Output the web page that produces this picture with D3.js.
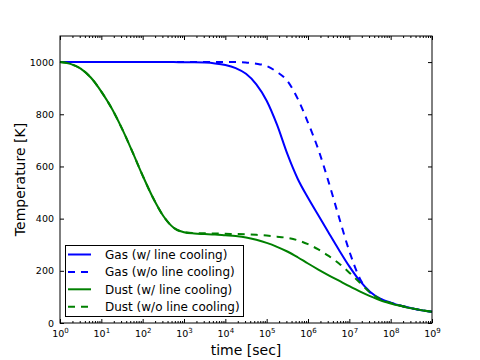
<!DOCTYPE html>
<html>
<head>
<meta charset="utf-8">
<script src="https://cdn.jsdelivr.net/npm/d3@7"></script>
<style>
body { margin: 0; background: #fff; }
text { font-family: "DejaVu Sans", sans-serif; }
</style>
</head>
<body>
<svg width="480" height="360"></svg>
<script>
// exponents of the time grid (time = 10^e sec)
var timeExp = [0, 0.25, 0.5, 0.75, 1, 1.25, 1.5, 1.75, 2, 2.25, 2.5, 2.75, 3, 3.25, 3.5, 3.75,
	4, 4.25, 4.5, 4.75, 5, 5.25, 5.5, 5.75, 6, 6.25, 6.5, 6.75, 7, 7.25, 7.5, 7.75, 8, 8.25, 8.5, 8.75, 9];

var gasWith = [1000, 1000, 1000, 1000, 1000, 1000, 1000, 1000, 1000, 1000, 1000, 1000, 999, 999, 998, 995,
	989, 977, 955, 915, 852, 760, 648, 553, 480, 413, 346, 280, 217, 162, 120, 93, 78, 66, 57, 49, 43];
var gasWithout = [1000, 1000, 1000, 1000, 1000, 1000, 1000, 1000, 1000, 1000, 1000, 1000, 1000, 1000, 1000, 1000,
	1000, 1000, 998, 994, 985, 962, 928, 860, 768, 665, 540, 405, 275, 172, 117, 92, 78, 66, 57, 49, 43];
var dustWith = [1000, 993, 975, 940, 887, 823, 745, 657, 565, 480, 410, 365, 348, 343, 341, 339,
	336, 333, 328, 319, 307, 292, 274, 252, 228, 205, 183, 162, 141, 121, 103, 87, 75, 65, 56, 49, 43];
var dustWithout = [1000, 993, 975, 940, 887, 823, 745, 657, 565, 480, 410, 365, 348, 345, 344, 343,
	342, 341, 340, 338, 335, 331, 326, 317, 302, 282, 257, 228, 193, 155, 118, 91, 77, 66, 57, 49, 43];

var yTicks = [0, 200, 400, 600, 800, 1000];
var xMajor = [1e0, 1e1, 1e2, 1e3, 1e4, 1e5, 1e6, 1e7, 1e8, 1e9];

var seriesNames = ["Gas (w/ line cooling)", "Gas (w/o line cooling)", "Dust (w/ line cooling)", "Dust (w/o line cooling)"];
var seriesValues = [gasWith, gasWithout, dustWith, dustWithout];
var seriesColors = ["#0000ff", "#0000ff", "#008000", "#008000"];
var seriesDashed = [false, true, false, true];

var svg = d3.select("svg");
const plotLeft = 60, plotRight = 432, plotTop = 36, plotBottom = 323;

var x = d3.scaleLog().domain([1, 1e9]).range([plotLeft, plotRight]);
var y = d3.scaleLinear().domain([0, 1100]).range([plotBottom, plotTop]);

var times = timeExp.map(e => Math.pow(10, e));
var xMinor = x.ticks().filter(t => xMajor.indexOf(t) < 0);

// minor ticks, bottom and top
svg.append("g")
	.attr("transform", "translate(0," + plotBottom + ")")
	.call(d3.axisBottom(x).tickValues(xMinor).tickSize(-2).tickFormat(""))
	.call(g => g.select(".domain").remove());
svg.append("g")
	.attr("transform", "translate(0," + plotTop + ")")
	.call(d3.axisTop(x).tickValues(xMinor).tickSize(-2).tickFormat(""))
	.call(g => g.select(".domain").remove());

// major x ticks
var xAxis = svg.append("g")
	.attr("transform", "translate(0," + plotBottom + ")")
	.call(d3.axisBottom(x).tickValues(xMajor).tickSize(-4).tickPadding(7).tickFormat(""))
	.call(g => g.select(".domain").remove());
xAxis.selectAll(".tick text")
	.attr("font-size", 9.5)
	.attr("fill", "#000")
	.each(function (d) {
		var t = d3.select(this);
		t.append("tspan").text("10");
		t.append("tspan").attr("dy", "-0.5em").attr("font-size", 7).text(Math.round(Math.log10(d)));
	});
svg.append("g")
	.attr("transform", "translate(0," + plotTop + ")")
	.call(d3.axisTop(x).tickValues(xMajor).tickSize(-4).tickFormat(""))
	.call(g => g.select(".domain").remove());

// y ticks
var yAxis = svg.append("g")
	.attr("transform", "translate(" + plotLeft + ",0)")
	.call(d3.axisLeft(y).tickValues(yTicks).tickSize(-4).tickPadding(6).tickFormat(d3.format("d")))
	.call(g => g.select(".domain").remove());
yAxis.selectAll(".tick text").attr("font-size", 9.5).attr("fill", "#000");
svg.append("g")
	.attr("transform", "translate(" + plotRight + ",0)")
	.call(d3.axisRight(y).tickValues(yTicks).tickSize(-4).tickFormat(""))
	.call(g => g.select(".domain").remove());

// lines
var line = d3.line()
	.x((d, i) => x(times[i]))
	.y(d => y(d))
	.curve(d3.curveMonotoneX);

svg.append("g")
	.selectAll("path")
	.data(seriesValues)
	.join("path")
	.attr("d", d => line(d))
	.attr("fill", "none")
	.attr("stroke", (d, i) => seriesColors[i])
	.attr("stroke-width", 2)
	.attr("stroke-dasharray", (d, i) => seriesDashed[i] ? "7,6" : null);

// frame
svg.append("rect")
	.attr("x", plotLeft).attr("y", plotTop)
	.attr("width", plotRight - plotLeft).attr("height", plotBottom - plotTop)
	.attr("fill", "none")
	.attr("stroke", "#000")
	.attr("stroke-width", 1);

// axis labels
svg.append("text")
	.attr("x", (plotLeft + plotRight) / 2).attr("y", 355)
	.attr("text-anchor", "middle")
	.attr("font-size", 14)
	.text("time [sec]");
svg.append("text")
	.attr("transform", "translate(25," + (plotBottom + plotTop) / 2 + ") rotate(-90)")
	.attr("text-anchor", "middle")
	.attr("font-size", 14)
	.text("Temperature [K]");

// legend
var legend = svg.append("g");
legend.append("rect")
	.attr("x", 65.5).attr("y", 245.5)
	.attr("width", 178).attr("height", 71)
	.attr("fill", "#fff")
	.attr("stroke", "#000")
	.attr("stroke-width", 1);

var item = legend.selectAll("g.item")
	.data(seriesNames)
	.join("g")
	.attr("class", "item")
	.attr("transform", (d, i) => "translate(0," + (254.5 + i * 17.4) + ")");
item.append("line")
	.attr("x1", 68).attr("x2", 91)
	.attr("stroke", (d, i) => seriesColors[i])
	.attr("stroke-width", 2)
	.attr("stroke-dasharray", (d, i) => seriesDashed[i] ? "7,6" : null);
item.append("text")
	.attr("x", 105).attr("dy", "0.35em")
	.attr("font-size", 12)
	.text(d => d);
</script>
</body>
</html>
